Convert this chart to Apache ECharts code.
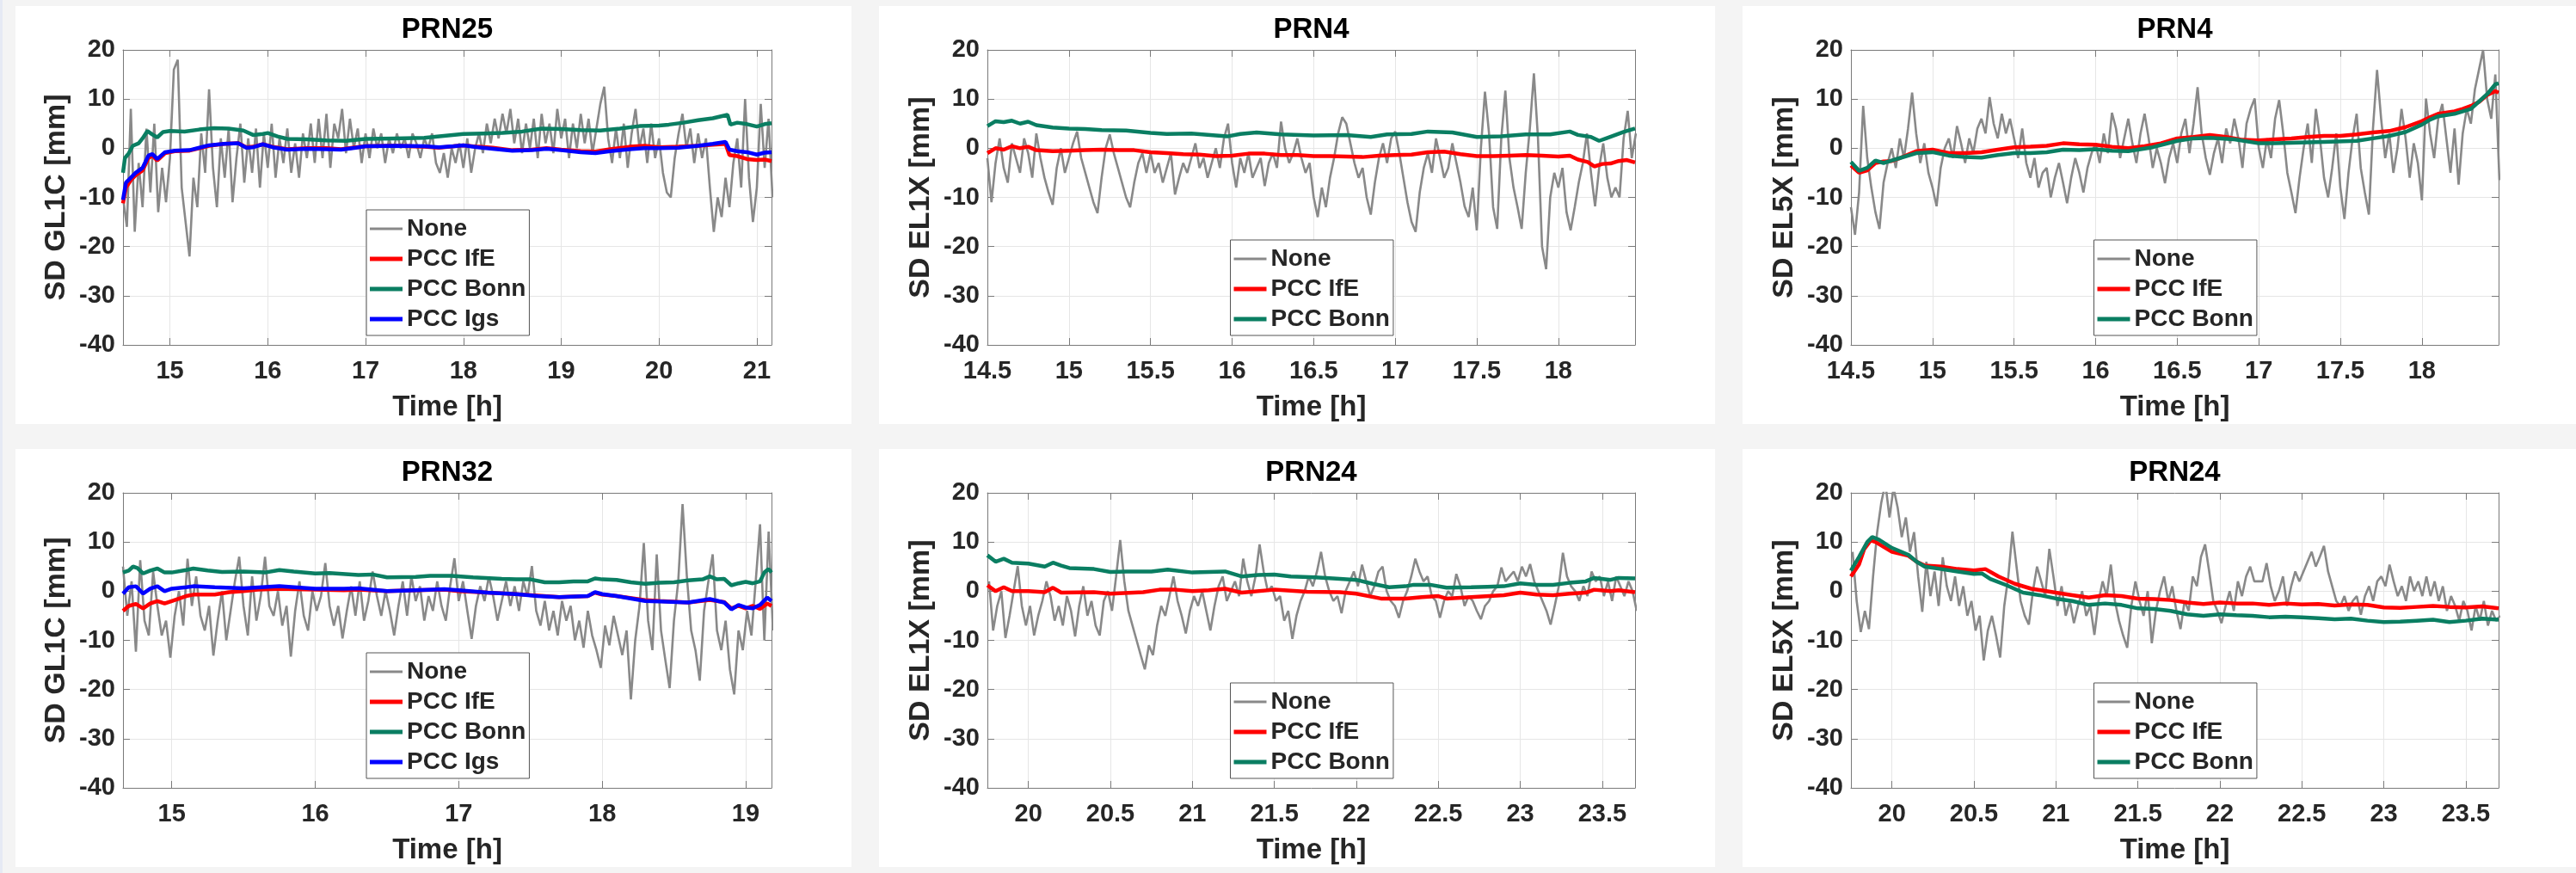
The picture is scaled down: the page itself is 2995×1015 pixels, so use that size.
<!DOCTYPE html>
<html>
<head>
<meta charset="utf-8">
<title>SD residuals per satellite</title>
<script src="https://cdn.jsdelivr.net/npm/echarts@6/dist/echarts.min.js"></script>
<style>
  html, body { margin: 0; padding: 0; background: #f4f4f4; }
  #chart { width: 2995px; height: 1015px; }
</style>
</head>
<body>
<div id="chart"></div>
<script>
// ---------- data ----------
// Uncorrected single differences ("None"), sampled on a regular time grid.
const NONE_A_T0 = 14.52, NONE_A_DT = 0.04;   // PRN25 GL1C
const NONE_A = [
  -10,-16,8,-17,-3,-12,4,-9,5,-13,-4,-11,-2,16,18,-8,-15,-22,-6,-12,3,-5,12,-4,-12,
  2,-6,4,-11,-2,5,-7,2,-5,4,-8,3,-4,5,-6,2,-3,4,-5,1,-6,3,-2,5,-3,
  6,-2,7,-4,5,2,8,-1,6,0,4,-3,3,-2,4,0,3,-3,2,-1,3,0,2,-2,3,
  1,-2,2,0,3,-3,-5,-1,-6,0,-3,1,-4,2,-5,0,3,-1,5,1,6,2,7,3,8,
  1,6,-1,5,0,6,-2,7,1,5,-1,8,2,6,-2,5,0,7,1,6,-1,4,9,12.5,2,
  -3,4,-2,5,-4,3,8,0,4,-3,5,-2,2,-5,-9,-10,-2,3,7,0,4,-3,3,-2,2,
  -8,-17,-10,-14,-6,-12,-3,2,-8,10,-6,-15,-8,9,-4,6,-10
];
const NONE_B_T0 = 14.5, NONE_B_DT = 0.025;   // PRN4 EL1X
const NONE_B = [
  -2,-11,-3,2,-4,-7,1,-2,-5,2,-1,-6,3,-2,-6,-9,-11.5,-4,0,-5,
  -2,1,3.4,-2,-5,-8,-11,-13.2,-6,0,2.8,-1,-4,-7,-10,-12,-7,-3,-1,-5,
  -1,-5,-3,-7,-4,-1,-9.4,-6,-3,-5,-2,1,-4,-2,-6,-3,0,-4,2,5,
  -3,-8,-2,-5,-1,-6,-4,-2,-7.7,-3,-1,-4,5.4,0,-3,-1,2,-2,-5,-3,
  -10,-14,-8,-12,-6,-2,3,6.3,5,1,-3,-6,-4,-10,-13.5,-7,-2,1,-3,2,
  3.4,-1,-6,-11,-15,-17,-9,-4,-1,-5,2,-2,-6,-4,1,-3,-7,-11.8,-14,-8,
  -16.7,0,11.5,3,-12,-16.4,2,11.7,-2,-8,-12,-16.4,-5,4,15.2,2,-20,-24.6,-10,-5,
  -8,-4,-13,-16.7,-12,-7,-3,3,-5,-11.8,-4,1,-6,-10,-8,-10,2,7.6,-2,3
];
const NONE_C_T0 = 14.5, NONE_C_DT = 0.025;   // PRN4 EL5X
const NONE_C = [
  -12,-17.6,-9,8.6,-2,-8,-13,-16.4,-7,-3,0,-4,2,-2,4,11.3,3,-3,1,-5,
  -8,-11.8,-4,0,2,-2,4.5,1,-3,2,-1,4,6,3,10.4,5,2,7,3,6,
  2,-2,4,-3,-6,-2,-8,-5,-4,-10,-6,-3,-7,-11.2,-6,-2,-5,-9,-4,-1,
  1,-3,3,-1,7.2,4,-2,2,6,1,-3,3,7,2,-4,0,-3,-7.1,-2,1,
  -3,3,6,-1,5,12.4,3,-2,-5.4,-1,2,-3,4,1,6,2,-4,5,8,10.1,
  0,-4,2,-2,6,9.8,3,-5,-9,-13.2,-6,0,5,-3,8,2,-6,-10,-4,3,
  -8,-14.4,-5,2,7,-4,-9,-13.5,4,15.9,6,-2,3,-5,0,8,2,-6,1,-3,
  -10.6,10.1,3,-2,6,9,2,-5,4,-7.4,3,8,5,12,16,20,10,6,15,-6.5
];
const NONE_D_T0 = 14.66, NONE_D_DT = 0.03;   // PRN32 GL1C
const NONE_D = [
  5,-5,2,-12.3,6.3,-6,-9,4,-3,-9,
  -6,-13.5,-5,0,-7,6.6,-3,3,-5,-8,
  -3,-13.1,-6,0,-10,-4,2,7,-3,-9,
  3,-6,-1,7,-3,-5,0,-7,-3,-13.3,
  -4,2,-5,-8,0,-4,-1,5.7,-3,-7,
  -3,-9.6,-4,1,-5,2,-6,-2,4,-1,
  -5,0,-4,-9,-3,2,-5,3,-2,1,
  -6,-1,-4,2,-3,-6,1,6.7,-2,2,
  -4,-9.7,-3,1,-2,3,-1,-6,-2,2,
  -3,1,-4,2,-1,5.1,-4,-7,-2,-8,
  -4,-9,-2,-6,-3,-10,-6,-11.5,-4,-9,
  -12,-15.6,-7,-11,-5,-9,-13,-8,-22,-10,
  -3,9.8,-6,-12,7.5,-8,-14,-19.7,-6,2,
  17.7,3,-8,-12,-18.2,-4,2,7.5,-8,-12,
  -6,-15.9,-21,-8,-12,-4,-9,2,13.6,-10,
  12.1,-8
];
const NONE_E_T0 = 19.76, NONE_E_DT = 0.025;  // PRN24 EL1X
const NONE_E = [
  2,-8,-3,0,-9.5,-5,0,5.1,-3,-7,-3,-9,-5,-2,2,-1,-6,-3,-7,-1,
  -4,-9.2,-3,1,-5,-2,-7,-9,-2,0,-4,3,10.4,2,-4,-7,-10,-13,-15.9,-11,
  -13,-7,-3,-5,-1,3,-2,-5,-8.6,-4,-1,-3,0,-4,-8,-3,1,3,-2,0,
  2,-1,6.6,2,-1,3,9.5,4,0,1,-2,-1,-6,-4,-9.7,-5,-2,0,3,1,
  4,8,3,0,-2,-1,-4.5,0,2,4,1,5.4,2,-1,1,4,5,0,-2,-3,
  -5.4,-2,0,3,6.6,4,2,3,-1,-2,-5.4,-2,0,-1,3.5,1,-3,-1,-2,-4,
  -5.7,-3,-2,0,1,4.8,2,3,4,2,5,3,5.5,2,0,-2,-4,-6.8,-3,1,
  7.8,3,1,0,-2,1,-1,4,2,3,-1,2,-2,3,1,-1,2,0,-4
];
const NONE_F_T0 = 19.76, NONE_F_DT = 0.025;  // PRN24 EL5X
const NONE_F = [
  8,-2,-8.3,-4,-7.7,3,12,18,22,15,21,17,11,15,8,12,3,-4.2,6,-1,
  4,-3,6.9,1,-2,3,-3,1,-5,-2,-8,-5,-14.1,-8,-5,-9,-13.5,-3,3,12.1,
  5,-2,-5,-6.8,0,5,2,-1,8.6,3,-3,1,-5,-2,-6.5,-3,0,-5,-3,-8.9,
  -2,2,-1,5.4,-2,-6,-9,-11.5,-3,2,-2,-5,0,-10.6,-4,0,3,-2,1,-4,
  -7.7,-2,-4,3,1,7,9.5,4,-2,-4,-6.5,-3,0,-4,2,-1,3,5,2,2,
  2,5.7,1,-2,0,3,-3,1,4,2,4,6,8,5,7,9.2,4,1,-2,-3,
  -1,-4,-2,-1,-4.8,-1,1,-2,2,3,1,5.4,2,-1,1,-2,3,0,2,-1,
  3,-1,2,-2,1,-4,-1,-3,-6,-2,-4,-8,-3,-6,-2,-7,-4,-6,-5
];

// Corrected series as [time h, mm] pairs.
const IFE_A = [[14.52,-11.2],[14.55,-8],[14.6,-6.5],[14.65,-5.5],[14.72,-4.5],[14.78,-2],[14.82,-1.5],[14.87,-2.5],[14.95,-1],[15.05,-0.6],[15.2,-0.5],[15.3,0],[15.4,0.5],[15.55,0.9],[15.7,1],[15.78,0.2],[15.85,0.3],[15.95,0.8],[16.05,0.3],[16.2,-0.2],[16.4,0],[16.6,0],[16.75,-0.2],[16.9,0.2],[17.0,0.4],[17.3,0.5],[17.6,0.3],[17.75,0.1],[17.9,0.4],[18.0,0.6],[18.15,0.3],[18.3,0.1],[18.5,-0.4],[18.7,-0.3],[18.85,0],[19.0,-0.3],[19.2,-0.6],[19.35,-0.7],[19.5,-0.2],[19.7,0.3],[19.85,0.5],[20.0,0.2],[20.2,0.3],[20.4,0.5],[20.55,0.7],[20.68,0.9],[20.72,-1.4],[20.8,-1.6],[20.9,-2.2],[21.0,-2.4],[21.08,-2.3],[21.15,-2.6]];
const BONN_A = [[14.52,-5],[14.54,-2],[14.58,-1],[14.62,0.5],[14.68,1],[14.72,2],[14.77,3.5],[14.82,2.8],[14.87,2.2],[14.93,3.3],[15.0,3.5],[15.15,3.4],[15.3,3.8],[15.45,4.1],[15.6,4.0],[15.75,3.6],[15.85,2.7],[15.95,2.9],[16.0,3.1],[16.1,2.4],[16.2,1.9],[16.4,1.8],[16.6,1.6],[16.8,1.5],[17.0,1.9],[17.3,2.0],[17.6,2.1],[17.8,2.5],[18.0,2.9],[18.2,3.0],[18.4,3.1],[18.6,3.4],[18.8,4.0],[19.0,3.9],[19.2,3.7],[19.4,3.6],[19.6,4.0],[19.8,4.5],[20.0,4.6],[20.1,4.8],[20.25,5.2],[20.4,5.7],[20.55,6.1],[20.7,6.8],[20.73,4.8],[20.8,5.2],[20.9,4.9],[21.0,4.4],[21.08,4.9],[21.15,5.1]];
const IGS_A = [[14.52,-10.5],[14.55,-7],[14.6,-6],[14.65,-5],[14.72,-4],[14.78,-1.5],[14.82,-1.2],[14.87,-2.2],[14.95,-0.8],[15.05,-0.5],[15.2,-0.4],[15.3,0.1],[15.4,0.6],[15.55,0.9],[15.7,1],[15.78,0.1],[15.85,0.2],[15.95,0.8],[16.05,0.2],[16.2,-0.3],[16.4,-0.1],[16.6,-0.2],[16.75,-0.3],[16.9,0.1],[17.0,0.4],[17.3,0.5],[17.6,0.4],[17.75,0.2],[17.9,0.4],[18.0,0.6],[18.15,0.2],[18.3,-0.1],[18.5,-0.5],[18.7,-0.4],[18.85,-0.1],[19.0,-0.4],[19.2,-0.8],[19.35,-1],[19.5,-0.6],[19.7,-0.2],[19.85,0],[20.0,0],[20.2,0.1],[20.4,0.5],[20.55,0.9],[20.68,1.3],[20.72,-0.3],[20.8,-0.6],[20.9,-0.8],[21.0,-1.3],[21.08,-0.9],[21.15,-0.8]];

const IFE_B = [[14.5,-1],[14.55,0],[14.6,-0.3],[14.65,0.4],[14.7,0],[14.75,0.3],[14.8,-0.4],[14.9,-0.6],[15.0,-0.5],[15.1,-0.4],[15.2,-0.3],[15.3,-0.4],[15.4,-0.4],[15.5,-0.8],[15.6,-1.0],[15.7,-1.2],[15.8,-1.3],[15.9,-1.6],[16.0,-1.5],[16.1,-1.1],[16.2,-1.1],[16.3,-1.4],[16.4,-1.4],[16.5,-1.6],[16.6,-1.6],[16.7,-1.7],[16.8,-1.8],[16.9,-1.5],[17.0,-1.4],[17.1,-1.3],[17.2,-0.8],[17.3,-0.7],[17.4,-1.2],[17.5,-1.6],[17.6,-1.6],[17.7,-1.5],[17.8,-1.4],[17.9,-1.5],[18.0,-1.7],[18.07,-1.5],[18.12,-2.3],[18.18,-2.8],[18.22,-3.7],[18.27,-3.2],[18.32,-3.1],[18.37,-2.6],[18.42,-2.4],[18.47,-2.9]];
const BONN_B = [[14.5,4.5],[14.55,5.5],[14.6,5.3],[14.65,5.6],[14.7,5.0],[14.75,5.4],[14.8,4.7],[14.9,4.2],[15.0,4.0],[15.1,3.9],[15.2,3.7],[15.35,3.6],[15.5,3.1],[15.6,2.9],[15.75,3.0],[15.9,2.6],[15.97,2.4],[16.05,2.9],[16.15,3.2],[16.3,2.8],[16.5,2.6],[16.7,2.7],[16.85,2.3],[16.95,2.8],[17.1,2.9],[17.2,3.4],[17.35,3.2],[17.5,2.3],[17.65,2.4],[17.8,2.8],[17.95,2.8],[18.07,3.4],[18.12,2.7],[18.2,2.3],[18.25,1.5],[18.3,2.1],[18.4,3.3],[18.47,4.0]];

const IFE_C = [[14.5,-3.5],[14.55,-5.0],[14.6,-4.5],[14.65,-3],[14.7,-2.7],[14.75,-2.6],[14.8,-2.0],[14.9,-0.6],[15.0,-0.3],[15.1,-1.0],[15.2,-1.0],[15.3,-0.8],[15.4,-0.3],[15.5,0.2],[15.6,0.3],[15.7,0.5],[15.8,1.0],[15.9,0.8],[16.0,0.7],[16.1,0.3],[16.2,0.0],[16.3,0.4],[16.4,1.0],[16.5,2.0],[16.6,2.3],[16.7,2.7],[16.8,2.3],[16.9,1.7],[17.0,1.6],[17.1,1.8],[17.2,2.0],[17.3,2.3],[17.4,2.5],[17.5,2.5],[17.6,2.8],[17.7,3.2],[17.8,3.5],[17.9,4.3],[18.0,5.5],[18.05,6.3],[18.1,7.0],[18.2,7.5],[18.25,8.0],[18.3,8.6],[18.35,9.4],[18.4,10.8],[18.45,11.6],[18.47,11.3]];
const BONN_C = [[14.5,-2.8],[14.55,-4.6],[14.6,-4],[14.65,-2.5],[14.7,-3],[14.75,-2.5],[14.8,-2],[14.9,-1],[15.0,-0.8],[15.1,-1.5],[15.2,-1.8],[15.3,-1.9],[15.4,-1.4],[15.5,-1.0],[15.6,-1.0],[15.7,-0.8],[15.8,-0.3],[15.9,-0.4],[16.0,-0.2],[16.1,-0.5],[16.2,-0.6],[16.35,0.2],[16.5,1.5],[16.6,2.0],[16.7,2.1],[16.85,1.8],[17.0,1.0],[17.1,1.0],[17.2,1.1],[17.4,1.3],[17.6,1.5],[17.7,2.0],[17.8,2.5],[17.9,3.3],[18.0,4.8],[18.05,5.8],[18.1,6.5],[18.2,7.0],[18.3,8.0],[18.35,9.5],[18.4,11.0],[18.45,13.0],[18.47,13.2]];

const IFE_D = [[14.66,-4.0],[14.7,-3.0],[14.75,-2.6],[14.8,-3.5],[14.85,-2.5],[14.9,-2.0],[14.95,-2.5],[15.0,-2.0],[15.1,-1.0],[15.15,-0.7],[15.3,-0.7],[15.4,-0.2],[15.5,0.0],[15.6,0.3],[15.75,0.5],[16.0,0.3],[16.2,0.2],[16.3,0.3],[16.5,0.0],[16.7,0.2],[16.9,0.3],[17.0,0.0],[17.2,-0.3],[17.4,-0.6],[17.55,-0.9],[17.7,-1.2],[17.9,-1.0],[17.95,-0.3],[18.0,-0.7],[18.1,-1.0],[18.3,-1.8],[18.4,-2.0],[18.6,-2.3],[18.75,-1.8],[18.85,-2.2],[18.9,-3.5],[18.95,-3.0],[19.0,-3.5],[19.05,-3.0],[19.1,-3.6],[19.15,-2.5],[19.18,-3.0]];
const BONN_D = [[14.66,3.8],[14.7,4.2],[14.73,5.0],[14.76,4.7],[14.8,3.6],[14.85,4.2],[14.9,4.6],[14.95,3.8],[15.0,3.8],[15.1,4.3],[15.15,4.6],[15.25,4.2],[15.35,3.9],[15.5,4.0],[15.65,3.8],[15.75,4.3],[15.85,4.0],[16.0,3.6],[16.1,3.7],[16.3,3.3],[16.4,3.4],[16.5,2.8],[16.7,2.9],[16.8,3.1],[16.95,3.1],[17.1,2.8],[17.3,2.5],[17.4,2.4],[17.5,2.4],[17.6,1.8],[17.7,1.8],[17.8,2.0],[17.9,2.0],[17.95,2.6],[18.0,2.4],[18.1,2.3],[18.2,1.8],[18.3,1.5],[18.4,1.7],[18.5,1.8],[18.6,2.2],[18.7,2.4],[18.75,3.0],[18.8,2.4],[18.85,2.5],[18.9,1.2],[18.95,1.6],[19.0,1.9],[19.05,1.6],[19.1,2.0],[19.13,3.8],[19.16,4.5],[19.18,3.8]];
const IGS_D = [[14.66,-0.5],[14.7,0.8],[14.75,1.0],[14.8,-0.5],[14.85,0.5],[14.9,1.0],[14.95,0.0],[15.0,0.5],[15.1,0.8],[15.15,1.0],[15.3,0.8],[15.5,0.6],[15.75,1.0],[16.0,0.5],[16.2,0.5],[16.3,0.6],[16.5,0.0],[16.7,0.2],[16.9,0.4],[17.0,0.2],[17.2,-0.3],[17.4,-0.6],[17.55,-1.0],[17.7,-1.2],[17.9,-1.0],[17.95,-0.2],[18.0,-0.6],[18.1,-1.0],[18.3,-2.0],[18.4,-2.1],[18.6,-2.3],[18.75,-1.6],[18.85,-2.3],[18.9,-3.7],[18.95,-2.8],[19.0,-3.3],[19.05,-3.5],[19.1,-2.8],[19.15,-1.3],[19.18,-2.0]];

const IFE_E = [[19.75,1.2],[19.8,0.0],[19.85,0.8],[19.9,0.0],[20.0,0.0],[20.1,-0.2],[20.15,0.7],[20.2,-0.3],[20.4,-0.2],[20.5,-0.5],[20.7,-0.2],[20.8,0.3],[20.9,0.3],[21.0,0.0],[21.1,0.2],[21.2,0.5],[21.3,-0.3],[21.5,0.3],[21.7,-0.1],[21.9,-0.2],[22.0,-0.5],[22.15,-1.5],[22.3,-1.5],[22.4,-1.2],[22.5,-1.0],[22.55,-1.5],[22.7,-1.2],[22.9,-0.8],[23.0,-0.3],[23.1,-0.7],[23.2,-0.8],[23.3,-0.5],[23.4,-0.3],[23.45,0.3],[23.55,0.0],[23.6,0.2],[23.7,-0.2]];
const BONN_E = [[19.75,7.3],[19.8,6.0],[19.85,6.6],[19.9,5.8],[20.0,5.6],[20.1,5.0],[20.15,5.8],[20.2,5.2],[20.25,4.7],[20.4,4.5],[20.5,3.9],[20.6,4.0],[20.75,4.0],[20.85,4.4],[21.0,3.8],[21.2,4.0],[21.3,3.0],[21.4,3.3],[21.5,3.4],[21.6,3.0],[21.75,2.8],[21.9,2.5],[22.0,2.3],[22.1,1.5],[22.2,0.8],[22.3,1.0],[22.35,1.3],[22.45,1.3],[22.55,0.7],[22.7,0.8],[22.8,0.9],[22.9,1.0],[23.0,1.6],[23.1,1.3],[23.2,1.3],[23.3,1.7],[23.4,2.0],[23.45,2.7],[23.55,2.3],[23.6,2.7],[23.7,2.6]];

const IFE_F = [[19.75,3.0],[19.8,5.5],[19.83,8.5],[19.87,10.3],[19.9,10.0],[19.95,9.0],[20.0,8.0],[20.1,7.2],[20.15,6.0],[20.2,5.2],[20.3,5.0],[20.4,4.5],[20.5,4.2],[20.57,4.5],[20.65,3.0],[20.75,1.5],[20.85,0.5],[21.0,-0.3],[21.1,-0.8],[21.2,-1.3],[21.3,-0.8],[21.4,-1.0],[21.5,-1.5],[21.6,-1.6],[21.7,-1.8],[21.8,-2.3],[21.9,-2.6],[22.0,-2.3],[22.1,-2.5],[22.2,-2.5],[22.3,-2.8],[22.4,-2.5],[22.5,-2.7],[22.6,-2.6],[22.7,-2.9],[22.8,-2.7],[22.9,-2.8],[23.0,-3.3],[23.1,-3.4],[23.2,-3.2],[23.3,-3.0],[23.4,-3.2],[23.5,-3.3],[23.6,-3.1],[23.7,-3.5]];
const BONN_F = [[19.75,4.2],[19.8,7.0],[19.85,10.0],[19.88,11.0],[19.92,10.5],[20.0,8.8],[20.1,7.4],[20.15,6.0],[20.2,5.0],[20.3,4.5],[20.4,4.0],[20.5,3.5],[20.55,3.6],[20.6,2.5],[20.7,1.2],[20.8,-0.3],[20.9,-0.8],[21.0,-1.5],[21.1,-2.0],[21.2,-2.8],[21.3,-2.5],[21.4,-2.8],[21.5,-3.5],[21.6,-3.6],[21.7,-4.0],[21.8,-4.7],[21.9,-5.0],[22.0,-4.7],[22.1,-4.9],[22.2,-5.0],[22.3,-5.3],[22.4,-5.2],[22.5,-5.3],[22.6,-5.5],[22.7,-5.7],[22.8,-5.6],[22.9,-6.0],[23.0,-6.3],[23.1,-6.2],[23.2,-6.0],[23.3,-5.8],[23.4,-6.3],[23.5,-6.0],[23.6,-5.6],[23.7,-5.8]];

const Y_MIN = -40, Y_MAX = 20, Y_STEP = 10;

// ---------- look ----------
const FONT = '"Liberation Sans", Arial, Helvetica, sans-serif';
const INK = '#262626';
const AXIS_GRAY = '#7a7a7a';
const GRID_GRAY = '#e6e6e6';
const STYLE = {
  'None':     { color: '#898989', width: 2.6, icon: 'path://M0 0H38V3H0Z' },
  'PCC IfE':  { color: '#ff0000', width: 4.5, icon: 'path://M0 0H38V5H0Z' },
  'PCC Bonn': { color: '#0a7e62', width: 4.5, icon: 'path://M0 0H38V5H0Z' },
  'PCC Igs':  { color: '#0000ff', width: 4.5, icon: 'path://M0 0H38V5H0Z' }
};

// ---------- layout ----------
const COL_X = [143, 1148, 2152];
const COL_W = [754, 753, 753];
const ROW_Y = [58, 573];
const PLOT_H = 343;
const CARD_X = [[18, 990], [1022, 1994], [2026, 2995]];
const CARD_Y = [[7, 493], [522, 1008]];
const TITLE_TOP = [18, 533];
const LEGEND_BOTTOM = [625, 110];

function sampled(values, t0, dt) {
  return values.map((v, i) => [+(t0 + i * dt).toFixed(4), v]);
}

const PANELS = [
  { row: 0, col: 0, title: 'PRN25', yName: 'SD GL1C [mm]', xMin: 14.52, xMax: 21.15, splitNumber: 6, step: 1,
    lines: [['None', sampled(NONE_A, NONE_A_T0, NONE_A_DT)], ['PCC IfE', IFE_A], ['PCC Bonn', BONN_A], ['PCC Igs', IGS_A]] },
  { row: 0, col: 1, title: 'PRN4', yName: 'SD EL1X [mm]', xMin: 14.5, xMax: 18.47, splitNumber: 8, step: 0.5,
    lines: [['None', sampled(NONE_B, NONE_B_T0, NONE_B_DT)], ['PCC IfE', IFE_B], ['PCC Bonn', BONN_B]] },
  { row: 0, col: 2, title: 'PRN4', yName: 'SD EL5X [mm]', xMin: 14.5, xMax: 18.47, splitNumber: 8, step: 0.5,
    lines: [['None', sampled(NONE_C, NONE_C_T0, NONE_C_DT)], ['PCC IfE', IFE_C], ['PCC Bonn', BONN_C]] },
  { row: 1, col: 0, title: 'PRN32', yName: 'SD GL1C [mm]', xMin: 14.66, xMax: 19.18, splitNumber: 5, step: 1,
    lines: [['None', sampled(NONE_D, NONE_D_T0, NONE_D_DT)], ['PCC IfE', IFE_D], ['PCC Bonn', BONN_D], ['PCC Igs', IGS_D]] },
  { row: 1, col: 1, title: 'PRN24', yName: 'SD EL1X [mm]', xMin: 19.75, xMax: 23.7, splitNumber: 8, step: 0.5,
    lines: [['None', sampled(NONE_E, NONE_E_T0, NONE_E_DT)], ['PCC IfE', IFE_E], ['PCC Bonn', BONN_E]] },
  { row: 1, col: 2, title: 'PRN24', yName: 'SD EL5X [mm]', xMin: 19.75, xMax: 23.7, splitNumber: 8, step: 0.5,
    lines: [['None', sampled(NONE_F, NONE_F_T0, NONE_F_DT)], ['PCC IfE', IFE_F], ['PCC Bonn', BONN_F]] }
];

// ---------- option ----------
const grid = [], xAxis = [], yAxis = [], series = [], title = [], legend = [];
const graphics = [
  { type: 'rect', z: -20, silent: true, shape: { x: 0, y: 0, width: 3, height: 1015 }, style: { fill: '#e6eaf4' } }
];
CARD_Y.forEach(([y0, y1]) => CARD_X.forEach(([x0, x1]) => {
  graphics.push({ type: 'rect', z: -10, silent: true,
    shape: { x: x0, y: y0, width: x1 - x0, height: y1 - y0 }, style: { fill: '#ffffff' } });
}));

const labelText = { fontFamily: FONT, fontSize: 29, fontWeight: 'bold', color: INK };
const lineAxis = { show: true, onZero: false, lineStyle: { color: AXIS_GRAY, width: 1 } };
const innerTick = { show: true, inside: true, length: 8, lineStyle: { color: AXIS_GRAY, width: 1 } };

PANELS.forEach((p, i) => {
  const left = COL_X[p.col], top = ROW_Y[p.row], w = COL_W[p.col];
  const cx = left + w / 2;
  grid.push({ left, top, width: w, height: PLOT_H, containLabel: false, outerBoundsMode: 'none', show: false });

  const onStep = v => Math.abs(v / p.step - Math.round(v / p.step)) < 1e-6;
  xAxis.push({
    gridIndex: i, type: 'value', position: 'bottom', min: p.xMin, max: p.xMax, splitNumber: p.splitNumber,
    name: 'Time [h]', nameLocation: 'middle', nameGap: 56,
    nameTextStyle: { fontFamily: FONT, fontSize: 33, fontWeight: 'bold', color: INK },
    axisLine: lineAxis, axisTick: innerTick,
    axisLabel: Object.assign({ margin: 16, formatter: v => onStep(v) ? String(+v.toFixed(2)) : '' }, labelText),
    splitLine: { show: true, lineStyle: { color: GRID_GRAY, width: 1 } }
  });
  xAxis.push({
    gridIndex: i, type: 'value', position: 'top', min: p.xMin, max: p.xMax, splitNumber: p.splitNumber,
    axisLine: lineAxis, axisTick: innerTick, axisLabel: { show: false }, splitLine: { show: false }
  });
  yAxis.push({
    gridIndex: i, type: 'value', position: 'left', min: Y_MIN, max: Y_MAX, interval: Y_STEP,
    name: p.yName, nameLocation: 'middle', nameGap: 60, nameRotate: 90,
    nameTextStyle: { fontFamily: FONT, fontSize: 34, fontWeight: 'bold', color: INK },
    axisLine: lineAxis, axisTick: innerTick,
    axisLabel: Object.assign({ margin: 9 }, labelText),
    splitLine: { show: true, lineStyle: { color: GRID_GRAY, width: 1 } }
  });
  yAxis.push({
    gridIndex: i, type: 'value', position: 'right', min: Y_MIN, max: Y_MAX, interval: Y_STEP,
    axisLine: lineAxis, axisTick: innerTick, axisLabel: { show: false }, splitLine: { show: false }
  });

  title.push({
    text: p.title, left: cx, top: TITLE_TOP[p.row], textAlign: 'center', padding: 0,
    textStyle: { fontFamily: FONT, fontSize: 33, fontWeight: 'bold', color: '#000' }
  });

  legend.push({
    orient: 'vertical', align: 'left', left: cx - 94, bottom: LEGEND_BOTTOM[p.row],
    data: p.lines.map(([n]) => ({ name: n, icon: STYLE[n].icon })),
    itemWidth: 38, itemHeight: 6, itemGap: 7, symbolKeepAspect: true, selectedMode: false,
    backgroundColor: '#ffffff', borderColor: '#555555', borderWidth: 1, borderRadius: 0,
    padding: [8, 4, 5, 4],
    textStyle: { fontFamily: FONT, fontSize: 28, fontWeight: 'bold', color: INK, lineHeight: 28 }
  });

  p.lines.forEach(([name, data]) => {
    const s = STYLE[name];
    series.push({
      type: 'line', name, data, xAxisIndex: 2 * i, yAxisIndex: 2 * i,
      showSymbol: false, symbol: 'none', clip: true, silent: true,
      color: s.color, lineStyle: { color: s.color, width: s.width },
      emphasis: { disabled: true }, animation: false
    });
  });
});

const chart = echarts.init(document.getElementById('chart'), null, { renderer: 'canvas' });
chart.setOption({
  backgroundColor: '#f4f4f4',
  animation: false,
  graphic: { elements: graphics },
  title, legend, grid, xAxis, yAxis, series,
  tooltip: { show: false }
});
</script>
</body>
</html>
